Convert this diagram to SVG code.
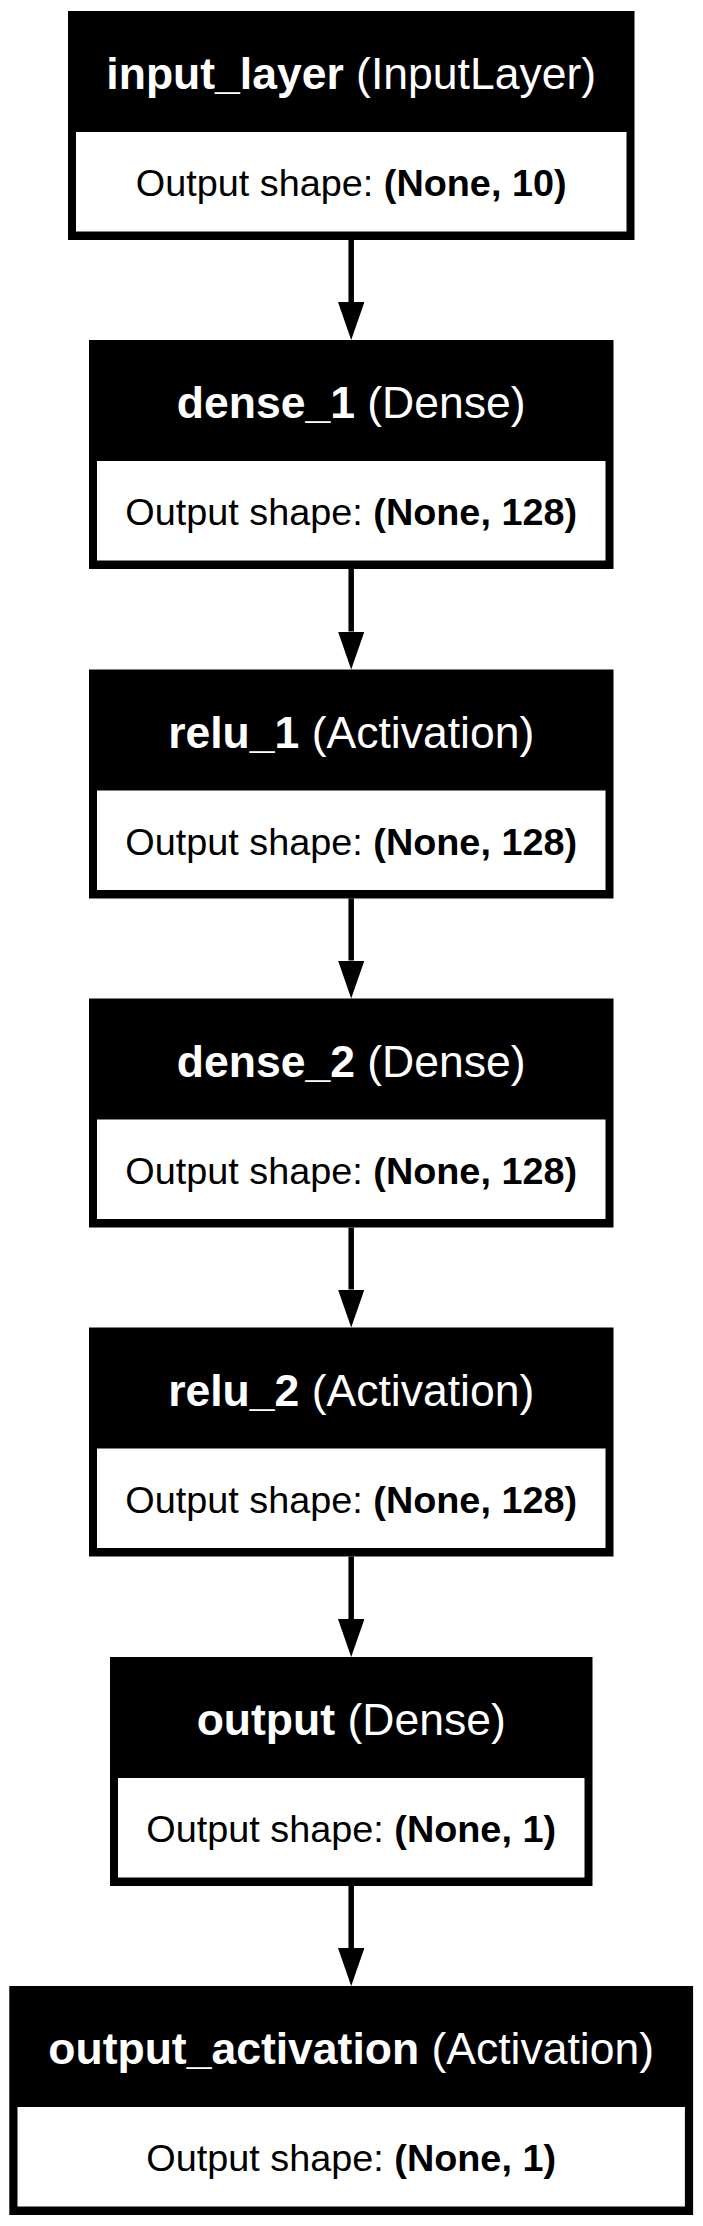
<svg xmlns="http://www.w3.org/2000/svg" width="703" height="2226" viewBox="0 0 703 2226">
<style>
.outer{fill:#000}
.inner{fill:#fff}
.h{font-family:"Liberation Sans",Arial,Helvetica,sans-serif;font-size:44.5px;fill:#fff;text-anchor:middle}
.b{font-family:"Liberation Sans",Arial,Helvetica,sans-serif;font-size:37.8px;fill:#000;text-anchor:middle}
.bold{font-weight:bold}
.edge{stroke:#000;stroke-width:5.5;fill:none}
</style>
<defs>
<marker id="arrow" markerUnits="userSpaceOnUse" markerWidth="38" markerHeight="27" refX="0" refY="13.2" orient="auto" viewBox="0 0 38 27">
<path d="M0,0 L38,13.2 L0,26.4 Z" fill="#000"/>
</marker>
</defs>
<rect width="703" height="2226" fill="#fff"/>
<g id="connectors">
<line class="edge" x1="351.2" y1="240" x2="351.2" y2="302" marker-end="url(#arrow)"/>
<line class="edge" x1="351.2" y1="569" x2="351.2" y2="631.5" marker-end="url(#arrow)"/>
<line class="edge" x1="351.2" y1="898.5" x2="351.2" y2="960.5" marker-end="url(#arrow)"/>
<line class="edge" x1="351.2" y1="1227.5" x2="351.2" y2="1289.5" marker-end="url(#arrow)"/>
<line class="edge" x1="351.2" y1="1556.5" x2="351.2" y2="1619" marker-end="url(#arrow)"/>
<line class="edge" x1="351.2" y1="1886" x2="351.2" y2="1948" marker-end="url(#arrow)"/>
</g>
<g id="input_layer">
<rect class="outer" x="68" y="11" width="566.5" height="229"/>
<rect class="inner" x="76" y="132" width="550.5" height="99.5"/>
<text class="h" x="351.2" y="89"><tspan class="bold">input_layer</tspan> (InputLayer)</text>
<text class="b" x="351.2" y="196"><tspan>Output shape: </tspan><tspan class="bold">(None, 10)</tspan></text>
</g>
<g id="dense_1">
<rect class="outer" x="89" y="340" width="524.5" height="229"/>
<rect class="inner" x="97" y="461" width="508.5" height="99.5"/>
<text class="h" x="351.2" y="418"><tspan class="bold">dense_1</tspan> (Dense)</text>
<text class="b" x="351.2" y="525"><tspan>Output shape: </tspan><tspan class="bold">(None, 128)</tspan></text>
</g>
<g id="relu_1">
<rect class="outer" x="89" y="669.5" width="524.5" height="229"/>
<rect class="inner" x="97" y="790.5" width="508.5" height="99.5"/>
<text class="h" x="351.2" y="747.5"><tspan class="bold">relu_1</tspan> (Activation)</text>
<text class="b" x="351.2" y="854.5"><tspan>Output shape: </tspan><tspan class="bold">(None, 128)</tspan></text>
</g>
<g id="dense_2">
<rect class="outer" x="89" y="998.5" width="524.5" height="229"/>
<rect class="inner" x="97" y="1119.5" width="508.5" height="99.5"/>
<text class="h" x="351.2" y="1076.5"><tspan class="bold">dense_2</tspan> (Dense)</text>
<text class="b" x="351.2" y="1183.5"><tspan>Output shape: </tspan><tspan class="bold">(None, 128)</tspan></text>
</g>
<g id="relu_2">
<rect class="outer" x="89" y="1327.5" width="524.5" height="229"/>
<rect class="inner" x="97" y="1448.5" width="508.5" height="99.5"/>
<text class="h" x="351.2" y="1405.5"><tspan class="bold">relu_2</tspan> (Activation)</text>
<text class="b" x="351.2" y="1512.5"><tspan>Output shape: </tspan><tspan class="bold">(None, 128)</tspan></text>
</g>
<g id="output">
<rect class="outer" x="110" y="1657" width="482.5" height="229"/>
<rect class="inner" x="118" y="1778" width="466.5" height="99.5"/>
<text class="h" x="351.2" y="1735"><tspan class="bold">output</tspan> (Dense)</text>
<text class="b" x="351.2" y="1842"><tspan>Output shape: </tspan><tspan class="bold">(None, 1)</tspan></text>
</g>
<g id="output_activation">
<rect class="outer" x="9.3" y="1986" width="683.8" height="229"/>
<rect class="inner" x="17.5" y="2107" width="667.4" height="99.5"/>
<text class="h" x="351.2" y="2064"><tspan class="bold">output_activation</tspan> (Activation)</text>
<text class="b" x="351.2" y="2171"><tspan>Output shape: </tspan><tspan class="bold">(None, 1)</tspan></text>
</g>
</svg>
